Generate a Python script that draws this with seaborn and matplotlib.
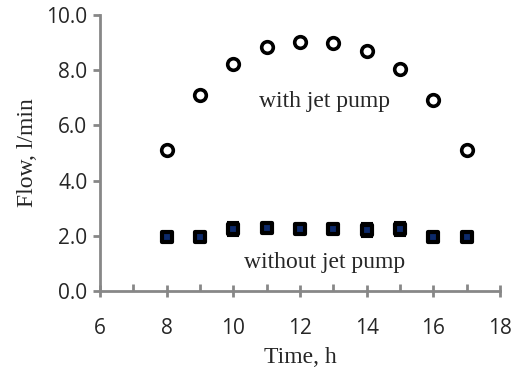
import seaborn as sns
import pandas as pd
import matplotlib.pyplot as plt
from matplotlib.ticker import MultipleLocator

hours = [8, 9, 10, 11, 12, 13, 14, 15, 16, 17]
with_pump = [5.1, 7.1, 8.22, 8.85, 9.03, 9.0, 8.68, 8.05, 6.92, 5.12]
without_pump = [1.97, 1.95, 2.25, 2.27, 2.25, 2.26, 2.22, 2.25, 1.97, 1.95]
without_err = [0.15, 0.15, 0.25, 0.15, 0.15, 0.15, 0.25, 0.25, 0.15, 0.15]

df = pd.DataFrame({'time': hours, 'with': with_pump, 'without': without_pump, 'err': without_err})

sns.set_style('white')
plt.rcParams['font.family'] = ['Liberation Serif', 'DejaVu Serif']

fig = plt.figure(figsize=(5.15, 3.75), dpi=100)
ax = fig.add_axes([0.194, 0.224, 0.777, 0.736])

# sem bomba: barras de erro + quadrados
ax.errorbar(df['time'], df['without'], yerr=df['err'], fmt='none', ecolor='black',
            elinewidth=1.5, capsize=4, capthick=1.5, zorder=2)
sns.scatterplot(x='time', y='without', data=df, marker='s', s=60, color='#0d2a6b',
                edgecolor='black', linewidth=3, ax=ax, zorder=3)
# com bomba: círculos abertos
sns.scatterplot(x='time', y='with', data=df, marker='o', s=70, color='white',
                edgecolor='black', linewidth=2.6, ax=ax, zorder=3)

ax.set_xlim(6, 18)
ax.set_ylim(0, 10)
ax.xaxis.set_major_locator(MultipleLocator(2))
ax.xaxis.set_minor_locator(MultipleLocator(1))
ax.yaxis.set_major_locator(MultipleLocator(2))
ax.yaxis.set_major_formatter(lambda v, p: f'{v:.1f}')

for s in ['top', 'right']:
    ax.spines[s].set_visible(False)
for s in ['left', 'bottom']:
    ax.spines[s].set_color('#878787')
    ax.spines[s].set_linewidth(2)

ax.tick_params(axis='x', which='major', direction='inout', length=9, width=2,
               color='#878787', labelsize=15, pad=15)
ax.tick_params(axis='x', which='minor', direction='in', length=5, width=2, color='#878787')
ax.tick_params(axis='y', which='major', direction='out', length=5, width=2,
               color='#878787', labelsize=15, pad=4)
ax.tick_params(bottom=True, left=True, which='both')
for lab in ax.get_xticklabels() + ax.get_yticklabels():
    lab.set_family(['Open Sans', 'DejaVu Sans'])

ax.set_xlabel('Time, h', fontsize=17, labelpad=6)
ax.set_ylabel('Flow, l/min', fontsize=17, labelpad=6)

ax.text(12.75, 6.85, 'with jet pump', fontsize=17, ha='center', va='center')
ax.text(12.75, 1.05, 'without jet pump', fontsize=17, ha='center', va='center')

fig.savefig('out.png', dpi=100)
